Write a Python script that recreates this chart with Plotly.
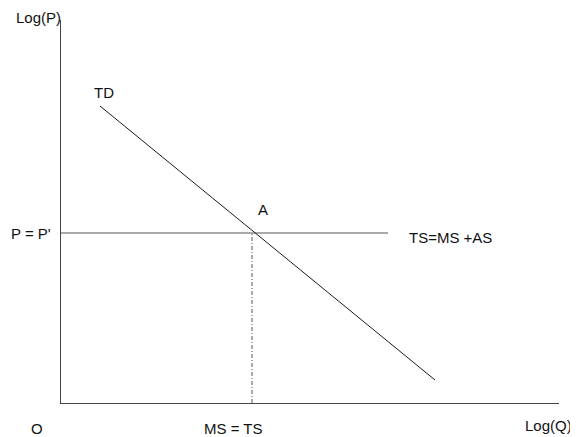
import plotly.graph_objects as go

# Schematic data (arbitrary log units)
td_q = [3.9, 37.4]
td_p = [29.7, 2.3]
ts_q = [0, 32.7]
ts_p = [17.0, 17.0]
eq_q = [19.1, 19.1]
eq_p = [0, 17.0]

labels = ["Log(P)", "P = P'", "TD", "A", "TS=MS +AS", "O", "MS = TS", "Log(Q)"]
label_q = [-2.3, -2.95, 4.3, 20.2, 38.9, -2.4, 17.25, 48.7]
label_p = [38.5, 17.0, 31.0, 19.4, 16.5, -2.5, -2.5, -2.2]

q_range = [0, 49.8]
p_range = [0, 38.3]

fig = go.Figure()
fig.add_trace(go.Scatter(x=ts_q, y=ts_p, mode="lines",
                         line=dict(color="#555555", width=1.2), hoverinfo="skip"))
fig.add_trace(go.Scatter(x=td_q, y=td_p, mode="lines",
                         line=dict(color="#1a1a1a", width=1), hoverinfo="skip"))
fig.add_trace(go.Scatter(x=eq_q, y=eq_p, mode="lines",
                         line=dict(color="#555555", width=1, dash="4px,2px,1px,2px"),
                         hoverinfo="skip"))

for t, q, p in zip(labels, label_q, label_p):
    px = (q - q_range[0]) / (q_range[1] - q_range[0])
    py = (p - p_range[0]) / (p_range[1] - p_range[0])
    fig.add_annotation(x=px, y=py, xref="paper", yref="paper", text=t, showarrow=False,
                       xanchor="center", yanchor="middle", borderpad=0,
                       font=dict(family="Liberation Sans, Arial", size=15, color="#111111"))

fig.update_layout(
    width=570, height=429,
    margin=dict(l=53, r=19, t=12, b=34),
    paper_bgcolor="white", plot_bgcolor="white",
    showlegend=False,
    xaxis=dict(range=q_range, showgrid=False, zeroline=False, showticklabels=False,
               ticks="", showline=True, linecolor="#444444", linewidth=1),
    yaxis=dict(range=p_range, showgrid=False, zeroline=False, showticklabels=False,
               ticks="", showline=True, linecolor="#444444", linewidth=1),
)
fig.write_html("out.html")
